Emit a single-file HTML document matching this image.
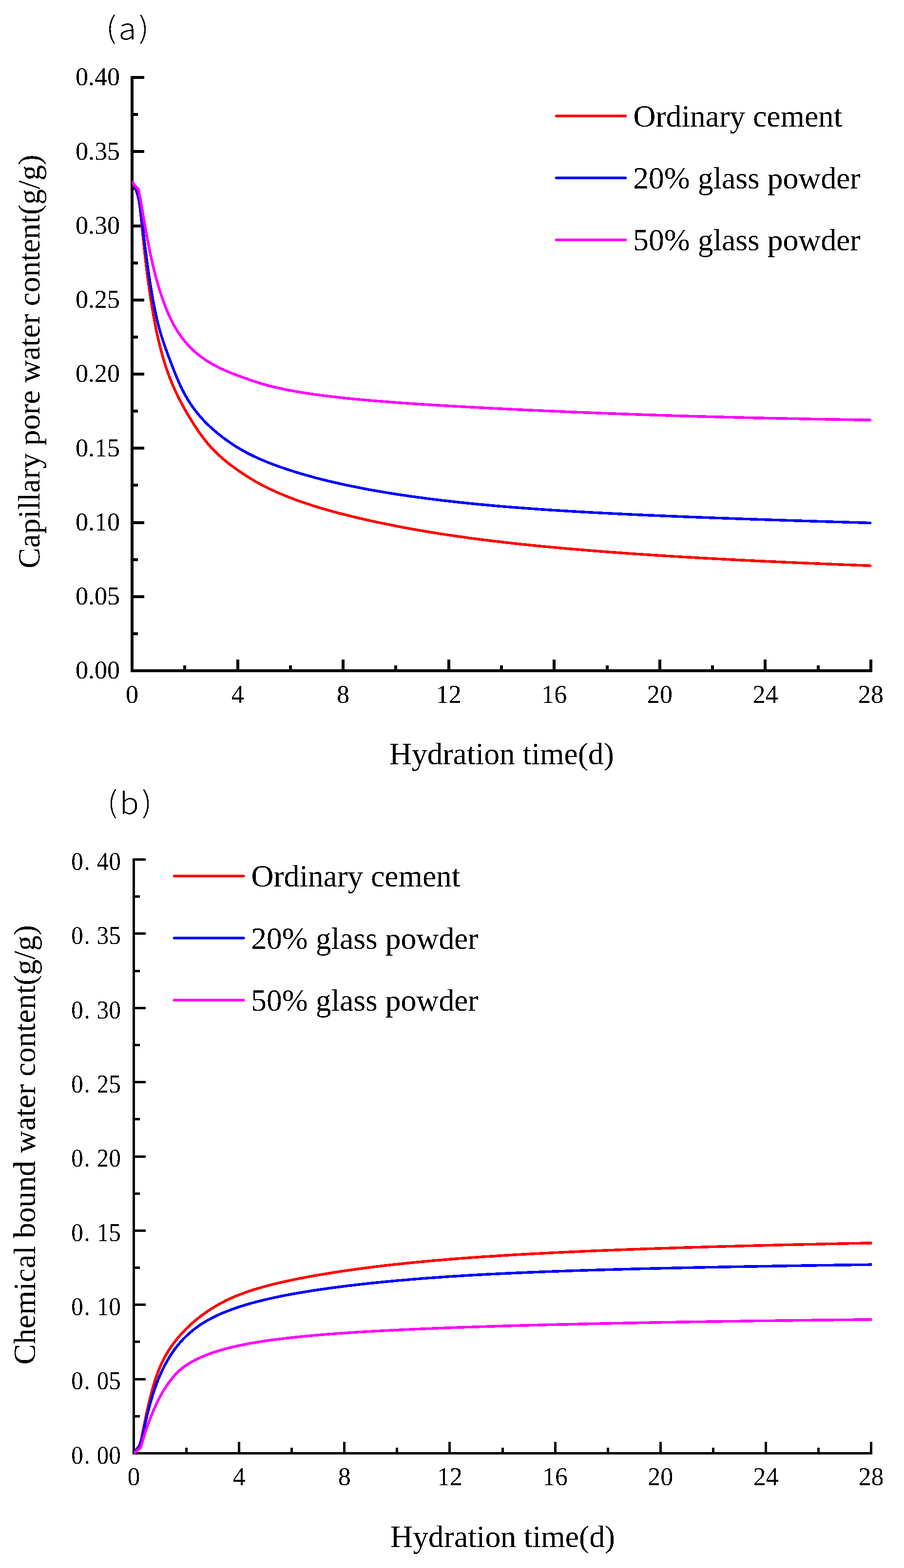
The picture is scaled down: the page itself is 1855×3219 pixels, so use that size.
<!DOCTYPE html>
<html lang="en"><head><meta charset="utf-8"><title>Hydration water content</title>
<style>html,body{margin:0;padding:0;background:#fff}body{width:1855px;height:3219px;overflow:hidden}svg{display:block}.t,.s{filter:url(#bin)}.t{font-family:"Liberation Serif","Times New Roman",serif;fill:#000}.s{font-family:"Noto Sans CJK SC","Liberation Sans",sans-serif;font-weight:300;fill:#000}</style></head><body>
<svg width="1855" height="3219" viewBox="0 0 1855 3219">
<rect width="1855" height="3219" fill="#fff"/>
<defs><filter id="bin" x="-5%" y="-5%" width="110%" height="110%" color-interpolation-filters="sRGB"><feComponentTransfer><feFuncA type="discrete" tableValues="0 1"/></feComponentTransfer></filter><clipPath id="ca"><rect x="271" y="100" width="1517" height="1280"/></clipPath><clipPath id="cb"><rect x="275" y="1700" width="1514" height="1285"/></clipPath></defs>
<g fill="#000" shape-rendering="crispEdges">
<rect x="268" y="156" width="6" height="1224"/>
<rect x="268" y="1374" width="1522" height="6"/>
<rect x="268" y="1374" width="28" height="6"/>
<rect x="268" y="1298" width="15" height="6"/>
<rect x="268" y="1222" width="28" height="6"/>
<rect x="268" y="1146" width="15" height="6"/>
<rect x="268" y="1070" width="28" height="6"/>
<rect x="268" y="993" width="15" height="6"/>
<rect x="268" y="917" width="28" height="6"/>
<rect x="268" y="841" width="15" height="6"/>
<rect x="268" y="765" width="28" height="6"/>
<rect x="268" y="689" width="15" height="6"/>
<rect x="268" y="613" width="28" height="6"/>
<rect x="268" y="537" width="15" height="6"/>
<rect x="268" y="461" width="28" height="6"/>
<rect x="268" y="384" width="15" height="6"/>
<rect x="268" y="308" width="28" height="6"/>
<rect x="268" y="232" width="15" height="6"/>
<rect x="268" y="156" width="28" height="6"/>
<rect x="268" y="1354" width="6" height="26"/>
<rect x="376" y="1366" width="6" height="14"/>
<rect x="485" y="1354" width="6" height="26"/>
<rect x="593" y="1366" width="6" height="14"/>
<rect x="701" y="1354" width="6" height="26"/>
<rect x="809" y="1366" width="6" height="14"/>
<rect x="918" y="1354" width="6" height="26"/>
<rect x="1026" y="1366" width="6" height="14"/>
<rect x="1134" y="1354" width="6" height="26"/>
<rect x="1243" y="1366" width="6" height="14"/>
<rect x="1351" y="1354" width="6" height="26"/>
<rect x="1459" y="1366" width="6" height="14"/>
<rect x="1567" y="1354" width="6" height="26"/>
<rect x="1676" y="1366" width="6" height="14"/>
<rect x="1784" y="1354" width="6" height="26"/>
</g>
<g fill="none" shape-rendering="crispEdges" stroke-width="5.5" stroke-linejoin="round" clip-path="url(#ca)">
<path stroke="#ff0000" d="M271.0 372.8L277.0 386.0L281.0 396.0L284.3 409.1L285.3 413.3L286.3 419.6L287.3 427.2L288.3 435.8L289.3 445.1L290.3 454.8L291.3 464.7L292.3 474.6L293.3 484.6L294.3 494.3L295.3 503.9L296.3 513.2L297.3 522.2L298.3 531.1L299.3 539.6L300.3 548.0L301.3 556.1L302.3 564.0L303.3 571.7L304.3 579.2L305.3 586.4L306.3 593.5L307.3 600.4L308.3 607.2L309.3 613.7L310.3 620.1L311.3 626.3L312.3 632.4L313.3 638.2L314.3 644.0L315.3 649.6L316.3 655.1L317.3 660.4L318.3 665.6L319.3 670.6L320.3 675.6L321.3 680.4L322.3 685.1L323.3 689.7L324.3 694.1L325.3 698.5L326.3 702.8L327.3 706.9L328.3 711.0L329.3 715.0L330.0 717.7L334.0 732.4L338.0 745.7L342.0 758.0L346.0 769.2L350.0 779.6L354.0 789.4L358.0 798.5L362.0 807.2L366.0 815.4L370.0 823.3L374.0 830.8L378.0 838.1L382.0 845.2L386.0 852.0L390.0 858.6L394.0 865.1L398.0 871.4L402.0 877.6L406.0 883.5L410.0 889.3L414.0 894.8L418.0 900.1L422.0 905.3L426.0 910.2L430.0 914.8L434.0 919.3L438.0 923.6L442.0 927.6L446.0 931.5L450.0 935.2L454.0 938.8L458.0 942.3L462.0 945.6L466.0 948.9L470.0 952.0L474.0 955.1L478.0 958.1L482.0 961.0L486.0 963.8L490.0 966.6L494.0 969.4L498.0 972.1L502.0 974.7L506.0 977.3L510.0 979.9L514.0 982.3L518.0 984.7L522.0 987.1L526.0 989.4L530.0 991.6L534.0 993.8L538.0 995.9L542.0 998.0L546.0 1000.0L550.0 1002.0L554.0 1003.9L558.0 1005.8L562.0 1007.7L566.0 1009.5L570.0 1011.3L574.0 1013.0L578.0 1014.7L582.0 1016.4L586.0 1018.0L590.0 1019.6L594.0 1021.2L598.0 1022.7L602.0 1024.2L606.0 1025.7L610.0 1027.2L614.0 1028.6L618.0 1030.0L622.0 1031.4L626.0 1032.8L630.0 1034.1L634.0 1035.4L638.0 1036.7L642.0 1038.0L646.0 1039.3L650.0 1040.5L654.0 1041.8L658.0 1043.0L662.0 1044.2L666.0 1045.3L670.0 1046.5L674.0 1047.6L678.0 1048.7L682.0 1049.9L686.0 1050.9L690.0 1052.0L694.0 1053.1L698.0 1054.1L700.0 1054.7L712.0 1057.7L724.0 1060.7L736.0 1063.6L748.0 1066.3L760.0 1069.0L772.0 1071.6L784.0 1074.2L796.0 1076.6L808.0 1079.0L820.0 1081.3L832.0 1083.6L844.0 1085.8L856.0 1087.9L868.0 1090.0L880.0 1092.0L892.0 1094.0L904.0 1095.9L916.0 1097.7L928.0 1099.5L940.0 1101.2L952.0 1102.9L964.0 1104.6L976.0 1106.2L988.0 1107.7L1000.0 1109.2L1012.0 1110.7L1024.0 1112.1L1036.0 1113.5L1048.0 1114.9L1060.0 1116.2L1072.0 1117.5L1084.0 1118.7L1096.0 1119.9L1108.0 1121.1L1120.0 1122.3L1132.0 1123.4L1144.0 1124.5L1156.0 1125.6L1168.0 1126.7L1180.0 1127.7L1192.0 1128.7L1204.0 1129.7L1216.0 1130.7L1228.0 1131.6L1240.0 1132.5L1252.0 1133.4L1264.0 1134.3L1276.0 1135.2L1288.0 1136.0L1300.0 1136.9L1312.0 1137.7L1324.0 1138.5L1336.0 1139.3L1348.0 1140.1L1360.0 1140.8L1372.0 1141.6L1384.0 1142.3L1396.0 1143.0L1408.0 1143.7L1420.0 1144.4L1432.0 1145.1L1444.0 1145.8L1456.0 1146.5L1468.0 1147.1L1480.0 1147.7L1492.0 1148.4L1504.0 1149.0L1516.0 1149.6L1528.0 1150.2L1540.0 1150.8L1552.0 1151.4L1564.0 1152.0L1576.0 1152.5L1588.0 1153.1L1600.0 1153.6L1612.0 1154.2L1624.0 1154.7L1636.0 1155.3L1648.0 1155.8L1660.0 1156.3L1672.0 1156.8L1684.0 1157.3L1696.0 1157.8L1708.0 1158.3L1720.0 1158.8L1732.0 1159.3L1744.0 1159.7L1756.0 1160.2L1768.0 1160.7L1780.0 1161.1L1788.0 1161.4"/>
<path stroke="#0000ff" d="M271.0 372.8L276.0 382.0L280.0 390.0L284.8 407.5L285.8 413.1L286.8 419.5L287.8 426.5L288.8 434.0L289.8 441.8L290.8 449.8L291.8 458.0L292.8 466.3L293.8 474.5L294.8 482.8L295.8 491.0L296.8 499.1L297.8 507.1L298.8 515.0L299.8 522.8L300.8 530.4L301.8 537.9L302.8 545.2L303.8 552.4L304.8 559.4L305.8 566.2L306.8 572.9L307.8 579.4L308.8 585.7L309.8 591.9L310.8 597.9L311.8 603.8L312.8 609.5L313.8 615.0L314.8 620.4L315.8 625.7L316.8 630.7L317.8 635.7L318.8 640.5L319.8 645.2L320.8 649.7L321.8 654.1L322.8 658.4L323.8 662.5L324.8 666.5L325.8 670.4L326.8 674.2L327.8 677.9L328.8 681.4L329.8 684.9L330.0 685.5L334.0 698.3L338.0 710.1L342.0 721.3L346.0 732.0L350.0 742.6L354.0 753.0L358.0 763.2L362.0 773.1L366.0 782.5L370.0 791.4L374.0 799.7L378.0 807.4L382.0 814.6L386.0 821.4L390.0 827.7L394.0 833.6L398.0 839.2L402.0 844.5L406.0 849.5L410.0 854.2L414.0 858.7L418.0 863.1L422.0 867.2L426.0 871.2L430.0 875.0L434.0 878.7L438.0 882.3L442.0 885.7L446.0 889.1L450.0 892.3L454.0 895.5L458.0 898.6L462.0 901.5L466.0 904.4L470.0 907.2L474.0 910.0L478.0 912.6L482.0 915.2L486.0 917.7L490.0 920.1L494.0 922.5L498.0 924.8L502.0 927.0L506.0 929.2L510.0 931.3L514.0 933.3L518.0 935.3L522.0 937.2L526.0 939.1L530.0 940.9L534.0 942.7L538.0 944.4L542.0 946.1L546.0 947.7L550.0 949.4L554.0 950.9L558.0 952.5L562.0 954.0L566.0 955.4L570.0 956.9L574.0 958.3L578.0 959.7L582.0 961.1L586.0 962.5L590.0 963.8L594.0 965.1L598.0 966.4L602.0 967.7L606.0 968.9L610.0 970.1L614.0 971.4L618.0 972.5L622.0 973.7L626.0 974.9L630.0 976.0L634.0 977.1L638.0 978.2L642.0 979.3L646.0 980.4L650.0 981.5L654.0 982.5L658.0 983.6L662.0 984.6L666.0 985.6L670.0 986.6L674.0 987.5L678.0 988.5L682.0 989.4L686.0 990.4L690.0 991.3L694.0 992.2L698.0 993.1L700.0 993.5L712.0 996.1L724.0 998.6L736.0 1001.0L748.0 1003.4L760.0 1005.6L772.0 1007.7L784.0 1009.8L796.0 1011.8L808.0 1013.7L820.0 1015.6L832.0 1017.3L844.0 1019.1L856.0 1020.7L868.0 1022.3L880.0 1023.9L892.0 1025.4L904.0 1026.9L916.0 1028.3L928.0 1029.6L940.0 1031.0L952.0 1032.2L964.0 1033.5L976.0 1034.7L988.0 1035.8L1000.0 1036.9L1012.0 1038.0L1024.0 1039.1L1036.0 1040.1L1048.0 1041.1L1060.0 1042.0L1072.0 1042.9L1084.0 1043.8L1096.0 1044.7L1108.0 1045.6L1120.0 1046.4L1132.0 1047.2L1144.0 1047.9L1156.0 1048.7L1168.0 1049.4L1180.0 1050.1L1192.0 1050.8L1204.0 1051.5L1216.0 1052.2L1228.0 1052.8L1240.0 1053.4L1252.0 1054.0L1264.0 1054.6L1276.0 1055.2L1288.0 1055.8L1300.0 1056.4L1312.0 1056.9L1324.0 1057.5L1336.0 1058.0L1348.0 1058.5L1360.0 1059.0L1372.0 1059.5L1384.0 1060.0L1396.0 1060.5L1408.0 1061.0L1420.0 1061.5L1432.0 1061.9L1444.0 1062.4L1456.0 1062.8L1468.0 1063.3L1480.0 1063.7L1492.0 1064.1L1504.0 1064.6L1516.0 1065.0L1528.0 1065.4L1540.0 1065.8L1552.0 1066.2L1564.0 1066.6L1576.0 1067.0L1588.0 1067.4L1600.0 1067.8L1612.0 1068.2L1624.0 1068.6L1636.0 1069.0L1648.0 1069.3L1660.0 1069.7L1672.0 1070.1L1684.0 1070.5L1696.0 1070.8L1708.0 1071.2L1720.0 1071.5L1732.0 1071.9L1744.0 1072.3L1756.0 1072.6L1768.0 1073.0L1780.0 1073.3L1788.0 1073.6"/>
<path stroke="#ff00ff" d="M271.0 372.8L276.5 380.6L280.3 384.7L283.8 388.0L284.8 392.2L285.8 397.0L286.8 402.1L287.8 407.5L288.8 413.1L289.8 418.8L290.8 424.7L291.8 430.5L292.8 436.4L293.8 442.3L294.8 448.1L295.8 453.9L296.8 459.7L297.8 465.3L298.8 470.9L299.8 476.5L300.8 481.9L301.8 487.3L302.8 492.5L303.8 497.7L304.8 502.8L305.8 507.8L306.8 512.7L307.8 517.5L308.8 522.2L309.8 526.9L310.8 531.4L311.8 535.9L312.8 540.2L313.8 544.5L314.8 548.7L315.8 552.8L316.8 556.9L317.8 560.8L318.8 564.7L319.8 568.5L320.8 572.2L321.8 575.9L322.8 579.4L323.8 583.0L324.8 586.4L325.8 589.8L326.8 593.1L327.8 596.3L328.8 599.5L329.8 602.6L330.0 603.2L334.0 615.0L338.0 625.9L342.0 636.0L346.0 645.4L350.0 654.0L354.0 662.1L358.0 669.5L362.0 676.3L366.0 682.7L370.0 688.6L374.0 694.1L378.0 699.2L382.0 704.0L386.0 708.5L390.0 712.7L394.0 716.6L398.0 720.4L402.0 723.9L406.0 727.2L410.0 730.4L414.0 733.4L418.0 736.2L422.0 739.0L426.0 741.6L430.0 744.0L434.0 746.4L438.0 748.7L442.0 750.9L446.0 752.9L450.0 755.0L454.0 756.9L458.0 758.7L462.0 760.5L466.0 762.2L470.0 763.9L474.0 765.5L478.0 767.1L482.0 768.6L486.0 770.2L490.0 771.7L494.0 773.2L498.0 774.6L502.0 776.1L506.0 777.5L510.0 778.9L514.0 780.3L518.0 781.7L522.0 783.0L526.0 784.3L530.0 785.6L534.0 786.8L538.0 788.0L542.0 789.2L546.0 790.3L550.0 791.4L554.0 792.4L558.0 793.4L562.0 794.4L566.0 795.3L570.0 796.3L574.0 797.1L578.0 798.0L582.0 798.8L586.0 799.7L590.0 800.4L594.0 801.2L598.0 802.0L602.0 802.7L606.0 803.4L610.0 804.1L614.0 804.8L618.0 805.5L622.0 806.1L626.0 806.7L630.0 807.4L634.0 808.0L638.0 808.6L642.0 809.2L646.0 809.7L650.0 810.3L654.0 810.8L658.0 811.4L662.0 811.9L666.0 812.4L670.0 812.9L674.0 813.4L678.0 813.9L682.0 814.3L686.0 814.8L690.0 815.3L694.0 815.7L698.0 816.2L700.0 816.4L712.0 817.7L724.0 818.9L736.0 820.0L748.0 821.1L760.0 822.2L772.0 823.2L784.0 824.1L796.0 825.1L808.0 826.0L820.0 826.9L832.0 827.7L844.0 828.5L856.0 829.3L868.0 830.1L880.0 830.9L892.0 831.6L904.0 832.3L916.0 833.0L928.0 833.7L940.0 834.4L952.0 835.1L964.0 835.7L976.0 836.4L988.0 837.0L1000.0 837.6L1012.0 838.3L1024.0 838.9L1036.0 839.5L1048.0 840.1L1060.0 840.7L1072.0 841.2L1084.0 841.8L1096.0 842.4L1108.0 842.9L1120.0 843.5L1132.0 844.0L1144.0 844.5L1156.0 845.1L1168.0 845.6L1180.0 846.1L1192.0 846.6L1204.0 847.0L1216.0 847.5L1228.0 848.0L1240.0 848.5L1252.0 848.9L1264.0 849.3L1276.0 849.8L1288.0 850.2L1300.0 850.6L1312.0 851.1L1324.0 851.5L1336.0 851.9L1348.0 852.3L1360.0 852.6L1372.0 853.0L1384.0 853.4L1396.0 853.8L1408.0 854.1L1420.0 854.5L1432.0 854.8L1444.0 855.1L1456.0 855.5L1468.0 855.8L1480.0 856.1L1492.0 856.4L1504.0 856.7L1516.0 857.0L1528.0 857.3L1540.0 857.6L1552.0 857.9L1564.0 858.2L1576.0 858.4L1588.0 858.7L1600.0 858.9L1612.0 859.2L1624.0 859.4L1636.0 859.7L1648.0 859.9L1660.0 860.2L1672.0 860.4L1684.0 860.6L1696.0 860.8L1708.0 861.0L1720.0 861.2L1732.0 861.4L1744.0 861.6L1756.0 861.8L1768.0 862.0L1780.0 862.2L1788.0 862.3"/>
</g>
<line x1="1141.5" y1="238.0" x2="1283.5" y2="238.0" stroke="#ff0000" stroke-width="5.5" stroke-linecap="round"/>
<text class="t" x="1299.5" y="259.6" font-size="63.6">Ordinary cement</text>
<line x1="1141.5" y1="365.2" x2="1283.5" y2="365.2" stroke="#0000ff" stroke-width="5.5" stroke-linecap="round"/>
<text class="t" x="1299.2" y="386.8" font-size="63.6">20% glass powder</text>
<line x1="1141.5" y1="492.4" x2="1283.5" y2="492.4" stroke="#ff00ff" stroke-width="5.5" stroke-linecap="round"/>
<text class="t" x="1299.2" y="514.0" font-size="63.6">50% glass powder</text>
<text class="t" x="271.0" y="1442.8" font-size="52.0" text-anchor="middle">0</text>
<text class="t" x="487.6" y="1442.8" font-size="52.0" text-anchor="middle">4</text>
<text class="t" x="704.1" y="1442.8" font-size="52.0" text-anchor="middle">8</text>
<text class="t" x="920.7" y="1442.8" font-size="52.0" text-anchor="middle">12</text>
<text class="t" x="1137.3" y="1442.8" font-size="52.0" text-anchor="middle">16</text>
<text class="t" x="1353.9" y="1442.8" font-size="52.0" text-anchor="middle">20</text>
<text class="t" x="1570.4" y="1442.8" font-size="52.0" text-anchor="middle">24</text>
<text class="t" x="1787.0" y="1442.8" font-size="52.0" text-anchor="middle">28</text>
<text class="t" x="246.0" y="1393.3" font-size="52.0" text-anchor="end">0.00</text>
<text class="t" x="246.0" y="1241.0" font-size="52.0" text-anchor="end">0.05</text>
<text class="t" x="246.0" y="1088.8" font-size="52.0" text-anchor="end">0.10</text>
<text class="t" x="246.0" y="936.5" font-size="52.0" text-anchor="end">0.15</text>
<text class="t" x="246.0" y="784.3" font-size="52.0" text-anchor="end">0.20</text>
<text class="t" x="246.0" y="632.0" font-size="52.0" text-anchor="end">0.25</text>
<text class="t" x="246.0" y="479.8" font-size="52.0" text-anchor="end">0.30</text>
<text class="t" x="246.0" y="327.6" font-size="52.0" text-anchor="end">0.35</text>
<text class="t" x="246.0" y="175.3" font-size="52.0" text-anchor="end">0.40</text>
<text class="t" x="1029.5" y="1569.4" font-size="63.6" text-anchor="middle">Hydration time(d)</text>
<text class="t" transform="translate(81.2 742.3) rotate(-90)" font-size="63.6" text-anchor="middle">Capillary pore water content(g/g)</text>
<text class="s" transform="scale(1.100 1)" x="197.9 221.2 258.8" y="78.6 81.3 78.6" font-size="60.0">(a)</text>
<g fill="#000" shape-rendering="crispEdges">
<rect x="272" y="1762" width="5" height="1224"/>
<rect x="272" y="2981" width="1518" height="5"/>
<rect x="272" y="2981" width="27" height="5"/>
<rect x="272" y="2905" width="15" height="5"/>
<rect x="272" y="2829" width="27" height="5"/>
<rect x="272" y="2752" width="15" height="5"/>
<rect x="272" y="2676" width="27" height="5"/>
<rect x="272" y="2600" width="15" height="5"/>
<rect x="272" y="2524" width="27" height="5"/>
<rect x="272" y="2448" width="15" height="5"/>
<rect x="272" y="2372" width="27" height="5"/>
<rect x="272" y="2295" width="15" height="5"/>
<rect x="272" y="2219" width="27" height="5"/>
<rect x="272" y="2143" width="15" height="5"/>
<rect x="272" y="2067" width="27" height="5"/>
<rect x="272" y="1991" width="15" height="5"/>
<rect x="272" y="1914" width="27" height="5"/>
<rect x="272" y="1838" width="15" height="5"/>
<rect x="272" y="1762" width="27" height="5"/>
<rect x="272" y="2960" width="5" height="26"/>
<rect x="380" y="2972" width="5" height="14"/>
<rect x="488" y="2960" width="5" height="26"/>
<rect x="596" y="2972" width="5" height="14"/>
<rect x="704" y="2960" width="5" height="26"/>
<rect x="812" y="2972" width="5" height="14"/>
<rect x="920" y="2960" width="5" height="26"/>
<rect x="1029" y="2972" width="5" height="14"/>
<rect x="1137" y="2960" width="5" height="26"/>
<rect x="1245" y="2972" width="5" height="14"/>
<rect x="1353" y="2960" width="5" height="26"/>
<rect x="1461" y="2972" width="5" height="14"/>
<rect x="1569" y="2960" width="5" height="26"/>
<rect x="1677" y="2972" width="5" height="14"/>
<rect x="1785" y="2960" width="5" height="26"/>
</g>
<g fill="none" shape-rendering="crispEdges" stroke-width="5.5" stroke-linejoin="round" clip-path="url(#cb)">
<path stroke="#ff0000" d="M274.5 2983.5L276.9 2978.4L285.0 2969.6L288.7 2960.3L289.7 2955.6L290.7 2950.8L291.7 2945.8L292.7 2940.8L293.7 2935.8L294.7 2930.8L295.7 2925.8L296.7 2920.9L297.7 2916.0L298.7 2911.1L299.7 2906.4L300.7 2901.7L301.7 2897.1L302.7 2892.6L303.7 2888.2L304.7 2883.8L305.7 2879.6L306.7 2875.4L307.7 2871.3L308.7 2867.3L309.7 2863.4L310.7 2859.6L311.7 2855.9L312.7 2852.2L313.7 2848.7L314.7 2845.2L315.7 2841.9L316.7 2838.6L317.7 2835.4L318.7 2832.2L319.7 2829.2L320.7 2826.3L321.7 2823.4L322.7 2820.6L323.7 2817.9L324.7 2815.2L325.7 2812.7L326.7 2810.2L327.7 2807.7L328.7 2805.4L329.7 2803.1L330.0 2802.4L334.0 2793.9L338.0 2786.2L342.0 2779.1L346.0 2772.6L350.0 2766.5L354.0 2760.8L358.0 2755.5L362.0 2750.4L366.0 2745.5L370.0 2740.9L374.0 2736.5L378.0 2732.2L382.0 2728.1L386.0 2724.2L390.0 2720.4L394.0 2716.8L398.0 2713.3L402.0 2709.9L406.0 2706.7L410.0 2703.6L414.0 2700.5L418.0 2697.6L422.0 2694.8L426.0 2692.1L430.0 2689.4L434.0 2686.8L438.0 2684.3L442.0 2681.8L446.0 2679.5L450.0 2677.2L454.0 2675.0L458.0 2672.9L462.0 2670.8L466.0 2668.8L470.0 2667.0L474.0 2665.1L478.0 2663.4L482.0 2661.7L486.0 2660.0L490.0 2658.4L494.0 2656.9L498.0 2655.4L502.0 2653.9L506.0 2652.5L510.0 2651.1L514.0 2649.8L518.0 2648.5L522.0 2647.2L526.0 2646.0L530.0 2644.8L534.0 2643.7L538.0 2642.5L542.0 2641.4L546.0 2640.3L550.0 2639.3L554.0 2638.2L558.0 2637.2L562.0 2636.2L566.0 2635.2L570.0 2634.3L574.0 2633.3L578.0 2632.4L582.0 2631.5L586.0 2630.6L590.0 2629.7L594.0 2628.9L598.0 2628.0L602.0 2627.2L606.0 2626.4L610.0 2625.6L614.0 2624.8L618.0 2624.0L622.0 2623.3L626.0 2622.5L630.0 2621.7L634.0 2621.0L638.0 2620.3L642.0 2619.6L646.0 2618.8L650.0 2618.1L654.0 2617.4L658.0 2616.8L662.0 2616.1L666.0 2615.4L670.0 2614.8L674.0 2614.1L678.0 2613.5L682.0 2612.8L686.0 2612.2L690.0 2611.6L694.0 2610.9L698.0 2610.3L700.0 2610.0L712.0 2608.3L724.0 2606.6L736.0 2604.9L748.0 2603.3L760.0 2601.8L772.0 2600.3L784.0 2598.8L796.0 2597.4L808.0 2596.1L820.0 2594.8L832.0 2593.5L844.0 2592.3L856.0 2591.1L868.0 2590.0L880.0 2588.9L892.0 2587.8L904.0 2586.8L916.0 2585.8L928.0 2584.8L940.0 2583.8L952.0 2582.9L964.0 2582.0L976.0 2581.2L988.0 2580.3L1000.0 2579.5L1012.0 2578.8L1024.0 2578.0L1036.0 2577.2L1048.0 2576.5L1060.0 2575.8L1072.0 2575.1L1084.0 2574.5L1096.0 2573.8L1108.0 2573.2L1120.0 2572.6L1132.0 2571.9L1144.0 2571.4L1156.0 2570.8L1168.0 2570.2L1180.0 2569.7L1192.0 2569.1L1204.0 2568.6L1216.0 2568.1L1228.0 2567.6L1240.0 2567.1L1252.0 2566.6L1264.0 2566.1L1276.0 2565.7L1288.0 2565.2L1300.0 2564.8L1312.0 2564.3L1324.0 2563.9L1336.0 2563.5L1348.0 2563.1L1360.0 2562.7L1372.0 2562.3L1384.0 2561.9L1396.0 2561.5L1408.0 2561.1L1420.0 2560.8L1432.0 2560.4L1444.0 2560.1L1456.0 2559.7L1468.0 2559.4L1480.0 2559.0L1492.0 2558.7L1504.0 2558.4L1516.0 2558.0L1528.0 2557.7L1540.0 2557.4L1552.0 2557.1L1564.0 2556.8L1576.0 2556.5L1588.0 2556.2L1600.0 2555.9L1612.0 2555.6L1624.0 2555.3L1636.0 2555.1L1648.0 2554.8L1660.0 2554.5L1672.0 2554.3L1684.0 2554.0L1696.0 2553.7L1708.0 2553.5L1720.0 2553.2L1732.0 2553.0L1744.0 2552.7L1756.0 2552.5L1768.0 2552.2L1780.0 2552.0L1789.0 2551.8"/>
<path stroke="#0000ff" d="M274.5 2983.5L276.9 2979.2L285.0 2971.3L290.3 2957.8L291.3 2953.1L292.3 2948.3L293.3 2943.6L294.3 2938.9L295.3 2934.3L296.3 2929.7L297.3 2925.2L298.3 2920.8L299.3 2916.4L300.3 2912.2L301.3 2908.0L302.3 2903.9L303.3 2899.9L304.3 2895.9L305.3 2892.1L306.3 2888.3L307.3 2884.7L308.3 2881.1L309.3 2877.5L310.3 2874.1L311.3 2870.7L312.3 2867.4L313.3 2864.2L314.3 2861.1L315.3 2858.0L316.3 2855.0L317.3 2852.0L318.3 2849.1L319.3 2846.3L320.3 2843.6L321.3 2840.9L322.3 2838.2L323.3 2835.6L324.3 2833.1L325.3 2830.6L326.3 2828.2L327.3 2825.8L328.3 2823.5L329.3 2821.2L330.0 2819.6L334.0 2811.1L338.0 2803.1L342.0 2795.7L346.0 2788.8L350.0 2782.4L354.0 2776.4L358.0 2770.7L362.0 2765.4L366.0 2760.4L370.0 2755.7L374.0 2751.2L378.0 2747.0L382.0 2743.1L386.0 2739.3L390.0 2735.7L394.0 2732.4L398.0 2729.1L402.0 2726.1L406.0 2723.2L410.0 2720.4L414.0 2717.8L418.0 2715.3L422.0 2712.9L426.0 2710.6L430.0 2708.4L434.0 2706.2L438.0 2704.2L442.0 2702.2L446.0 2700.3L450.0 2698.5L454.0 2696.7L458.0 2695.0L462.0 2693.4L466.0 2691.8L470.0 2690.3L474.0 2688.8L478.0 2687.3L482.0 2685.9L486.0 2684.5L490.0 2683.2L494.0 2681.9L498.0 2680.7L502.0 2679.4L506.0 2678.2L510.0 2677.1L514.0 2675.9L518.0 2674.8L522.0 2673.7L526.0 2672.7L530.0 2671.6L534.0 2670.6L538.0 2669.6L542.0 2668.7L546.0 2667.7L550.0 2666.8L554.0 2665.9L558.0 2665.0L562.0 2664.1L566.0 2663.3L570.0 2662.4L574.0 2661.6L578.0 2660.8L582.0 2660.0L586.0 2659.2L590.0 2658.4L594.0 2657.7L598.0 2656.9L602.0 2656.2L606.0 2655.5L610.0 2654.8L614.0 2654.1L618.0 2653.4L622.0 2652.8L626.0 2652.1L630.0 2651.4L634.0 2650.8L638.0 2650.2L642.0 2649.5L646.0 2648.9L650.0 2648.3L654.0 2647.7L658.0 2647.1L662.0 2646.6L666.0 2646.0L670.0 2645.4L674.0 2644.9L678.0 2644.3L682.0 2643.8L686.0 2643.3L690.0 2642.7L694.0 2642.2L698.0 2641.7L700.0 2641.4L712.0 2639.9L724.0 2638.5L736.0 2637.1L748.0 2635.7L760.0 2634.4L772.0 2633.2L784.0 2632.0L796.0 2630.8L808.0 2629.7L820.0 2628.6L832.0 2627.6L844.0 2626.5L856.0 2625.6L868.0 2624.6L880.0 2623.7L892.0 2622.8L904.0 2622.0L916.0 2621.1L928.0 2620.3L940.0 2619.6L952.0 2618.8L964.0 2618.1L976.0 2617.4L988.0 2616.8L1000.0 2616.1L1012.0 2615.5L1024.0 2614.9L1036.0 2614.3L1048.0 2613.8L1060.0 2613.2L1072.0 2612.7L1084.0 2612.2L1096.0 2611.7L1108.0 2611.2L1120.0 2610.7L1132.0 2610.3L1144.0 2609.9L1156.0 2609.4L1168.0 2609.0L1180.0 2608.6L1192.0 2608.2L1204.0 2607.8L1216.0 2607.5L1228.0 2607.1L1240.0 2606.8L1252.0 2606.4L1264.0 2606.1L1276.0 2605.8L1288.0 2605.4L1300.0 2605.1L1312.0 2604.8L1324.0 2604.5L1336.0 2604.2L1348.0 2603.9L1360.0 2603.7L1372.0 2603.4L1384.0 2603.1L1396.0 2602.8L1408.0 2602.6L1420.0 2602.3L1432.0 2602.1L1444.0 2601.8L1456.0 2601.6L1468.0 2601.4L1480.0 2601.1L1492.0 2600.9L1504.0 2600.7L1516.0 2600.5L1528.0 2600.2L1540.0 2600.0L1552.0 2599.8L1564.0 2599.6L1576.0 2599.4L1588.0 2599.2L1600.0 2599.0L1612.0 2598.8L1624.0 2598.6L1636.0 2598.4L1648.0 2598.2L1660.0 2598.0L1672.0 2597.8L1684.0 2597.7L1696.0 2597.5L1708.0 2597.3L1720.0 2597.1L1732.0 2596.9L1744.0 2596.8L1756.0 2596.6L1768.0 2596.4L1780.0 2596.3L1789.0 2596.1"/>
<path stroke="#ff00ff" d="M274.5 2983.5L276.3 2982.1L282.8 2977.0L286.9 2973.7L289.4 2970.1L290.4 2966.3L291.4 2962.7L292.4 2959.1L293.4 2955.6L294.4 2952.3L295.4 2949.0L296.4 2945.7L297.4 2942.6L298.4 2939.5L299.4 2936.5L300.4 2933.5L301.4 2930.6L302.4 2927.7L303.4 2924.9L304.4 2922.2L305.4 2919.5L306.4 2916.8L307.4 2914.2L308.4 2911.6L309.4 2909.1L310.4 2906.6L311.4 2904.1L312.4 2901.7L313.4 2899.3L314.4 2897.0L315.4 2894.6L316.4 2892.3L317.4 2890.1L318.4 2887.9L319.4 2885.7L320.4 2883.5L321.4 2881.4L322.4 2879.4L323.4 2877.3L324.4 2875.3L325.4 2873.3L326.4 2871.4L327.4 2869.5L328.4 2867.6L329.4 2865.7L330.0 2864.6L334.0 2857.6L338.0 2851.0L342.0 2844.8L346.0 2839.0L350.0 2833.6L354.0 2828.6L358.0 2823.9L362.0 2819.6L366.0 2815.7L370.0 2812.0L374.0 2808.8L378.0 2805.7L382.0 2803.0L386.0 2800.4L390.0 2797.9L394.0 2795.6L398.0 2793.4L402.0 2791.3L406.0 2789.3L410.0 2787.5L414.0 2785.7L418.0 2784.0L422.0 2782.3L426.0 2780.8L430.0 2779.3L434.0 2777.8L438.0 2776.4L442.0 2775.1L446.0 2773.9L450.0 2772.6L454.0 2771.5L458.0 2770.3L462.0 2769.2L466.0 2768.2L470.0 2767.1L474.0 2766.2L478.0 2765.2L482.0 2764.3L486.0 2763.4L490.0 2762.5L494.0 2761.7L498.0 2760.9L502.0 2760.1L506.0 2759.3L510.0 2758.5L514.0 2757.8L518.0 2757.1L522.0 2756.4L526.0 2755.7L530.0 2755.1L534.0 2754.4L538.0 2753.8L542.0 2753.2L546.0 2752.6L550.0 2752.0L554.0 2751.5L558.0 2750.9L562.0 2750.4L566.0 2749.9L570.0 2749.4L574.0 2748.8L578.0 2748.4L582.0 2747.9L586.0 2747.4L590.0 2746.9L594.0 2746.5L598.0 2746.0L602.0 2745.6L606.0 2745.2L610.0 2744.8L614.0 2744.4L618.0 2744.0L622.0 2743.6L626.0 2743.2L630.0 2742.8L634.0 2742.4L638.0 2742.1L642.0 2741.7L646.0 2741.3L650.0 2741.0L654.0 2740.6L658.0 2740.3L662.0 2740.0L666.0 2739.7L670.0 2739.3L674.0 2739.0L678.0 2738.7L682.0 2738.4L686.0 2738.1L690.0 2737.8L694.0 2737.5L698.0 2737.2L700.0 2737.1L712.0 2736.3L724.0 2735.5L736.0 2734.7L748.0 2734.0L760.0 2733.3L772.0 2732.6L784.0 2732.0L796.0 2731.4L808.0 2730.8L820.0 2730.2L832.0 2729.6L844.0 2729.1L856.0 2728.5L868.0 2728.0L880.0 2727.5L892.0 2727.0L904.0 2726.6L916.0 2726.1L928.0 2725.7L940.0 2725.2L952.0 2724.8L964.0 2724.4L976.0 2724.0L988.0 2723.6L1000.0 2723.2L1012.0 2722.9L1024.0 2722.5L1036.0 2722.1L1048.0 2721.8L1060.0 2721.4L1072.0 2721.1L1084.0 2720.8L1096.0 2720.5L1108.0 2720.1L1120.0 2719.8L1132.0 2719.5L1144.0 2719.2L1156.0 2719.0L1168.0 2718.7L1180.0 2718.4L1192.0 2718.1L1204.0 2717.8L1216.0 2717.6L1228.0 2717.3L1240.0 2717.1L1252.0 2716.8L1264.0 2716.6L1276.0 2716.3L1288.0 2716.1L1300.0 2715.9L1312.0 2715.6L1324.0 2715.4L1336.0 2715.2L1348.0 2715.0L1360.0 2714.7L1372.0 2714.5L1384.0 2714.3L1396.0 2714.1L1408.0 2713.9L1420.0 2713.7L1432.0 2713.5L1444.0 2713.3L1456.0 2713.2L1468.0 2713.0L1480.0 2712.8L1492.0 2712.6L1504.0 2712.4L1516.0 2712.3L1528.0 2712.1L1540.0 2711.9L1552.0 2711.7L1564.0 2711.6L1576.0 2711.4L1588.0 2711.3L1600.0 2711.1L1612.0 2710.9L1624.0 2710.8L1636.0 2710.6L1648.0 2710.5L1660.0 2710.3L1672.0 2710.2L1684.0 2710.1L1696.0 2709.9L1708.0 2709.8L1720.0 2709.6L1732.0 2709.5L1744.0 2709.4L1756.0 2709.2L1768.0 2709.1L1780.0 2709.0L1789.0 2708.9"/>
</g>
<line x1="357.5" y1="1798.5" x2="499.8" y2="1798.5" stroke="#ff0000" stroke-width="5.5" stroke-linecap="round"/>
<text class="t" x="515.5" y="1820.3" font-size="63.6">Ordinary cement</text>
<line x1="357.5" y1="1925.8" x2="499.8" y2="1925.8" stroke="#0000ff" stroke-width="5.5" stroke-linecap="round"/>
<text class="t" x="515.2" y="1947.6" font-size="63.6">20% glass powder</text>
<line x1="357.5" y1="2053.2" x2="499.8" y2="2053.2" stroke="#ff00ff" stroke-width="5.5" stroke-linecap="round"/>
<text class="t" x="515.2" y="2075.0" font-size="63.6">50% glass powder</text>
<text class="t" x="274.5" y="3049.3" font-size="52.0" text-anchor="middle">0</text>
<text class="t" x="490.6" y="3049.3" font-size="52.0" text-anchor="middle">4</text>
<text class="t" x="706.8" y="3049.3" font-size="52.0" text-anchor="middle">8</text>
<text class="t" x="922.9" y="3049.3" font-size="52.0" text-anchor="middle">12</text>
<text class="t" x="1139.1" y="3049.3" font-size="52.0" text-anchor="middle">16</text>
<text class="t" x="1355.2" y="3049.3" font-size="52.0" text-anchor="middle">20</text>
<text class="t" x="1571.4" y="3049.3" font-size="52.0" text-anchor="middle">24</text>
<text class="t" x="1787.5" y="3049.3" font-size="52.0" text-anchor="middle">28</text>
<text class="t" transform="scale(0.920 1)" x="172.3 194.0 229.2 256.1" y="3004.8" font-size="53.0" text-anchor="middle">0.00</text>
<text class="t" transform="scale(0.920 1)" x="172.3 194.0 229.2 256.1" y="2852.4" font-size="53.0" text-anchor="middle">0.05</text>
<text class="t" transform="scale(0.920 1)" x="172.3 194.0 229.2 256.1" y="2700.1" font-size="53.0" text-anchor="middle">0.10</text>
<text class="t" transform="scale(0.920 1)" x="172.3 194.0 229.2 256.1" y="2547.7" font-size="53.0" text-anchor="middle">0.15</text>
<text class="t" transform="scale(0.920 1)" x="172.3 194.0 229.2 256.1" y="2395.3" font-size="53.0" text-anchor="middle">0.20</text>
<text class="t" transform="scale(0.920 1)" x="172.3 194.0 229.2 256.1" y="2242.9" font-size="53.0" text-anchor="middle">0.25</text>
<text class="t" transform="scale(0.920 1)" x="172.3 194.0 229.2 256.1" y="2090.6" font-size="53.0" text-anchor="middle">0.30</text>
<text class="t" transform="scale(0.920 1)" x="172.3 194.0 229.2 256.1" y="1938.2" font-size="53.0" text-anchor="middle">0.35</text>
<text class="t" transform="scale(0.920 1)" x="172.3 194.0 229.2 256.1" y="1785.8" font-size="53.0" text-anchor="middle">0.40</text>
<text class="t" x="1031.7" y="3175.7" font-size="63.6" text-anchor="middle">Hydration time(d)</text>
<text class="t" transform="translate(71.8 2350.4) rotate(-90)" font-size="63.6" text-anchor="middle">Chemical bound water content(g/g)</text>
<text class="s" transform="scale(1.100 1)" x="200.2 223.0 264.5" y="1668.6 1671.0 1668.6" font-size="60.0">(b)</text>
</svg></body></html>
